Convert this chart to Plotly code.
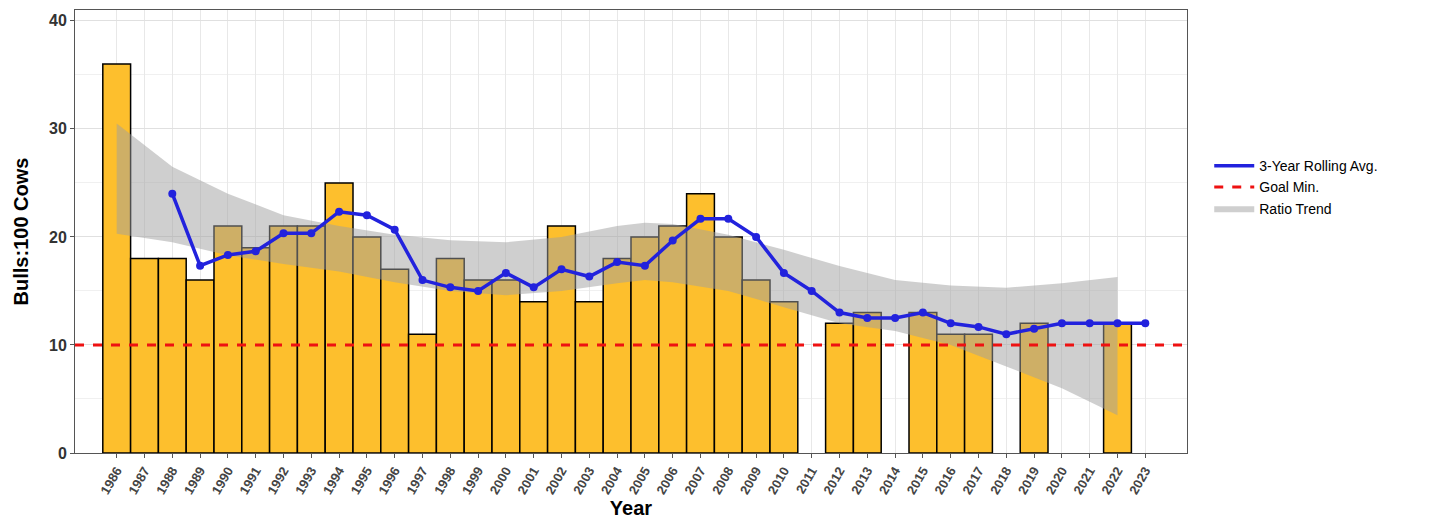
import plotly.graph_objects as go

# bull:cow ratio per year (None = no survey)
years = list(range(1986, 2024))
ratio = [36, 18, 18, 16, 21, 19, 21, 21, 25, 20, 17, 11, 18, 16, 16, 14, 21, 14, 18, 20,
         21, 24, 20, 16, 14, None, 12, 13, None, 13, 11, 11, None, 12, None, None, 12, None]

roll_years = list(range(1988, 2024))
roll_avg = [24, 17.33, 18.33, 18.67, 20.33, 20.33, 22.33, 22, 20.67, 16, 15.33, 15, 16.67,
            15.33, 17, 16.33, 17.67, 17.33, 19.67, 21.67, 21.67, 20, 16.67, 15, 13, 12.5,
            12.5, 13, 12, 11.67, 11, 11.5, 12, 12, 12, 12]

# trend ribbon (confidence band)
trend_years = [1986, 1988, 1990, 1992, 1994, 1996, 1998, 2000, 2002, 2004, 2005, 2006,
               2008, 2010, 2012, 2014, 2016, 2018, 2020, 2022]
trend_lo = [20.3, 19.5, 18.3, 17.5, 16.8, 15.8, 15, 14.6, 15, 15.7, 16, 15.8, 15, 13.5,
            12, 11.3, 10, 8, 6, 3.5]
trend_hi = [30.5, 26.5, 24, 22, 21, 20.2, 19.7, 19.5, 20, 21, 21.3, 21.2, 20.2, 18.8,
            17.3, 16, 15.5, 15.3, 15.7, 16.3]

goal_min = 10

fig = go.Figure()
fig.add_trace(go.Bar(x=years, y=ratio, width=1, marker=dict(color="#FDBF2D", line=dict(color="black", width=1.5)),
                     showlegend=False))
fig.add_trace(go.Scatter(x=trend_years + trend_years[::-1], y=trend_hi + trend_lo[::-1], fill="toself",
                         fillcolor="rgba(160,160,160,0.5)", line=dict(width=0), mode="lines",
                         name="Ratio Trend", legendrank=3))
fig.add_trace(go.Scatter(x=[1984.5, 2024.5], y=[goal_min, goal_min], mode="lines",
                         line=dict(color="#EE1111", width=3, dash="dash"), name="Goal Min.", legendrank=2))
fig.add_trace(go.Scatter(x=roll_years, y=roll_avg, mode="lines+markers",
                         line=dict(color="#2222DD", width=3.5), marker=dict(size=8, color="#2222DD"),
                         showlegend=False))
# legend entry without markers
fig.add_trace(go.Scatter(x=[None], y=[None], mode="lines", line=dict(color="#2222DD", width=3.5),
                         name="3-Year Rolling Avg.", legendrank=1))

fig.update_layout(
    width=1432, height=529, plot_bgcolor="white", paper_bgcolor="white",
    margin=dict(l=67, r=253, t=2, b=84),
    font=dict(family="Liberation Sans, Arial", color="#333"),
    legend=dict(x=1.02, y=0.6, yanchor="middle", font=dict(size=14, color="black"),
                tracegroupgap=12, itemwidth=40),
)
fig.update_xaxes(range=[1984.5, 2024.5], tickmode="array", tickvals=years, ticktext=["<b>%d</b>" % y for y in years],
                 tickangle=-60, tickfont=dict(size=13, color="#444"),
                 title=dict(text="<b>Year</b>", font=dict(size=20, color="black"), standoff=4),
                 showgrid=True, gridcolor="#e8e8e8", mirror=True, showline=True, linecolor="#555",
                 ticks="outside", ticklen=4, tickcolor="#555")
fig.update_yaxes(range=[0, 41], tickvals=[0, 10, 20, 30, 40], ticktext=["<b>0</b>", "<b>10</b>", "<b>20</b>", "<b>30</b>", "<b>40</b>"],
                 tickfont=dict(size=16, color="#333"),
                 title=dict(text="<b>Bulls:100 Cows</b>", font=dict(size=20, color="black")),
                 showgrid=True, gridcolor="#e0e0e0", minor=dict(dtick=5, showgrid=True, gridcolor="#f0f0f0"),
                 mirror=True, showline=True, linecolor="#555", zeroline=False,
                 ticks="outside", ticklen=4, tickcolor="#555")

fig.write_html("out.html")
